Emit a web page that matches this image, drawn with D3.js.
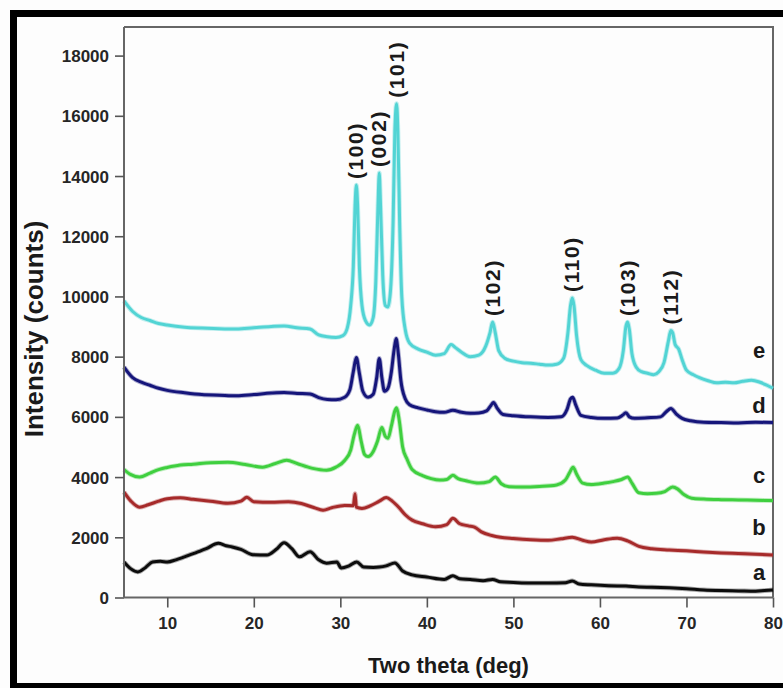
<!DOCTYPE html>
<html>
<head>
<meta charset="utf-8">
<script src="https://cdn.jsdelivr.net/npm/d3@7"></script>
<style>
  html, body { margin: 0; padding: 0; background: #fff; }
  svg { display: block; }
  text { font-family: Arial, "Liberation Sans", sans-serif; }
</style>
</head>
<body>
<svg id="chart" width="783" height="688"></svg>
<script>
// XRD patterns of five samples (a–e), 2θ in degrees vs intensity in counts.
const seriesNames = ["a", "b", "c", "d", "e"];

const thetaA = [5, 5.8, 6.6, 7.5, 8.3, 9.2, 10, 11, 12, 13.4, 14.5, 15.9, 16.8, 17.5, 18.5, 19.9, 21.5, 22.6, 23.5, 24.4, 25.3, 26.5, 27.5, 28.4, 29.6, 30.1, 31, 31.9, 32.7, 33.8, 34.5, 35.3, 36.3, 37.2, 38.3, 40, 42, 43, 43.8, 45, 46.5, 47.6, 48.5, 50, 52, 54, 56, 56.8, 57.6, 59, 61, 63, 64.5, 66, 68, 70, 72, 74, 76, 78, 79, 80];
const countsA = [1180, 950, 850, 1000, 1180, 1200, 1180, 1250, 1350, 1500, 1620, 1800, 1720, 1680, 1600, 1420, 1410, 1600, 1820, 1620, 1350, 1520, 1250, 1140, 1180, 980, 1050, 1180, 1010, 1000, 1010, 1050, 1150, 880, 750, 680, 600, 720, 620, 600, 560, 600, 520, 500, 480, 480, 490, 550, 450, 420, 390, 380, 350, 340, 320, 290, 250, 230, 220, 210, 230, 250];

const thetaB = [5, 5.8, 6.8, 7.8, 9, 10, 11.5, 13, 15, 17, 18.5, 19.2, 20, 22, 24, 25.5, 27, 28, 29, 30.5, 31.5, 31.7, 31.85, 32.5, 33.5, 34.5, 35.3, 36, 36.8, 37.5, 38.3, 39.5, 41, 42.3, 43, 43.8, 44.8, 45.5, 46.3, 47.5, 48.5, 50, 52, 54, 55.5, 56.8, 58, 59, 60.5, 62, 63.2, 64.5, 66, 68, 70, 72, 74, 76, 78, 80];
const countsB = [3500, 3200, 3000, 3080, 3200, 3280, 3310, 3260, 3200, 3130, 3200, 3330, 3180, 3160, 3180, 3120, 2980, 2900, 2980, 3060, 3050, 3450, 3000, 2960, 3050, 3200, 3320, 3200, 2980, 2750, 2570, 2450, 2350, 2420, 2630, 2450, 2380, 2340, 2180, 2060, 2000, 1960, 1920, 1900, 1950, 2000, 1900, 1840, 1920, 1970, 1880, 1700, 1620, 1580, 1550, 1510, 1480, 1460, 1440, 1410];

const thetaC = [5, 5.8, 6.8, 8, 9, 10, 11.5, 13, 15, 17, 19, 21, 22.5, 23.8, 25, 26.8, 28.4, 29.5, 30.5, 31.2, 31.6, 32, 32.4, 32.8, 33.2, 33.8, 34.3, 34.8, 35.2, 35.5, 35.9, 36.3, 36.5, 36.8, 37.2, 37.7, 38.3, 39.5, 40.5, 41.5, 42.3, 43, 43.6, 44.5, 46, 47.2, 47.9, 48.6, 49.5, 51, 53, 55, 56, 56.5, 56.9, 57.3, 58, 59, 60.5, 61.5, 62.5, 63.2, 63.7, 64.5, 65.5, 66.5, 67.5, 68.4, 69, 69.7, 70.6, 72, 74, 76, 78, 80];
const countsC = [4250, 4080, 4000, 4130, 4250, 4320, 4400, 4430, 4480, 4490, 4420, 4330, 4450, 4560, 4450, 4290, 4230, 4330, 4550, 4900, 5400, 5720, 5200, 4750, 4680, 4850, 5200, 5650, 5350, 5290, 5700, 6200, 6300, 5900, 5000, 4600, 4250, 4050, 3950, 3900, 3920, 4060, 3950, 3880, 3800, 3850, 4000, 3780, 3680, 3670, 3690, 3740, 3900, 4150, 4330, 4100, 3800, 3750, 3800, 3850, 3920, 4000, 3800, 3480, 3450, 3460, 3520, 3670, 3600, 3420, 3300, 3270, 3250, 3240, 3230, 3220];

const thetaD = [5, 6, 7, 8, 9, 10, 12, 14, 16, 18, 20, 22, 23.5, 25, 26.5, 27.5, 28.5, 29.5, 30.5, 31.1, 31.5, 31.85, 32.2, 32.6, 33.2, 33.8, 34.2, 34.5, 34.8, 35.1, 35.5, 35.9, 36.2, 36.45, 36.7, 37, 37.5, 38, 39, 40, 41, 42, 43, 44, 45, 46, 46.9, 47.4, 47.7, 48.1, 48.8, 50, 52, 54, 55.5, 56.2, 56.6, 56.85, 57.2, 57.8, 59, 60.5, 62, 62.6, 63, 63.4, 64, 65.5, 67, 67.7, 68.2, 68.8, 69.5, 70.5, 72, 74, 76, 78, 80];
const countsD = [7650, 7300, 7150, 7050, 6950, 6880, 6800, 6740, 6720, 6700, 6740, 6790, 6810, 6780, 6760, 6640, 6580, 6570, 6650, 6900, 7500, 7970, 7450, 6850, 6650, 6750, 7300, 7940, 7300, 6850, 6950, 7500, 8200, 8600, 8100, 7200, 6600, 6400, 6300, 6230, 6170, 6150, 6220, 6150, 6120, 6130, 6200, 6380, 6480, 6300, 6080, 6040, 6000, 5980, 6000, 6250, 6600, 6650, 6400, 6050, 5980, 5950, 5960, 6050, 6140, 6000, 5950, 5970, 6000, 6180, 6280, 6100, 5950, 5870, 5820, 5810, 5800, 5820, 5810];

const thetaE = [5, 6, 7, 8, 9, 10, 12, 14, 16, 18, 20, 22, 23.5, 25, 26.5, 27.5, 28.5, 29.5, 30.3, 30.8, 31.2, 31.5, 31.7, 31.85, 32, 32.2, 32.5, 32.9, 33.4, 33.8, 34.1, 34.35, 34.5, 34.65, 34.9, 35.2, 35.5, 35.8, 36.1, 36.3, 36.5, 36.65, 36.85, 37.1, 37.5, 38, 39, 40, 41, 42, 42.8, 43.3, 44, 45, 46, 46.8, 47.3, 47.6, 47.9, 48.3, 49, 50, 51, 52, 53, 54, 55, 55.8, 56.3, 56.6, 56.8, 57, 57.3, 57.8, 58.5, 59.5, 60.5, 61.5, 62.2, 62.7, 63, 63.2, 63.4, 63.7, 64.2, 64.8, 65.5, 66.2, 66.8, 67.4, 67.9, 68.2, 68.4, 68.7, 69.1, 69.5, 70, 70.8, 71.5, 72.5, 73.5, 74.5, 75.5, 76.5, 77.5, 78.5, 79.3, 80];
const countsE = [9850, 9500, 9300, 9200, 9100, 9050, 8980, 8950, 8930, 8920, 8960, 9000, 9020, 8960, 8920, 8720, 8660, 8640, 8700, 8950, 9700, 11000, 13000, 13700, 13000, 11000, 9700, 9200, 9050, 9300, 10500, 13000, 14100, 13000, 10700, 9700, 9650, 10200, 12500, 15500, 16400, 15500, 12500, 10000, 8900, 8450, 8250, 8150, 8050, 8100, 8400, 8300, 8150, 8000, 8050, 8350, 8800, 9150, 8800, 8200, 7950, 7850, 7800, 7780, 7750, 7720, 7750, 7950, 8800, 9700, 9950, 9700, 8700, 7900, 7700, 7550, 7450, 7450, 7600, 8200, 9000, 9150, 8900, 8100, 7650, 7500, 7450, 7400, 7500, 7800, 8500, 8870, 8800, 8400, 8250, 7900, 7550, 7400, 7300, 7200, 7130, 7150, 7130, 7180, 7220, 7150, 7050, 6950];

// Miller indices of the reflections, with the 2θ of each peak in pattern e
const hklLabels = ["(100)", "(002)", "(101)", "(102)", "(110)", "(103)", "(112)"];
const hklTheta = [31.85, 34.5, 36.5, 47.6, 56.8, 63.2, 68.2];

// Axis ticks
const xTicks = [10, 20, 30, 40, 50, 60, 70, 80];
const yTicks = [0, 2000, 4000, 6000, 8000, 10000, 12000, 14000, 16000, 18000];

const xTitle = "Two theta (deg)";
const yTitle = "Intensity (counts)";

// ---- layout & style ----
const svg = d3.select("#chart");
const plot = { left: 124, right: 773, top: 27, bottom: 597.5 };
const colors = { a: "#0c0c0c", b: "#a62a2a", c: "#3fcf3f", d: "#15157a", e: "#52d4d4" };
const letterPos = { a: 846, b: 2340, c: 4065, d: 6389, e: 8214 }; // in counts, at right edge

const x = d3.scaleLinear().domain([5, 80]).range([plot.left, plot.right]);
const y = d3.scaleLinear().domain([0, 18950]).range([plot.bottom, plot.top]);

// page background and black frame bands
svg.append("rect").attr("width", 783).attr("height", 688).attr("fill", "#fdfdfd");
svg.append("rect").attr("x", 10).attr("y", 10).attr("width", 7).attr("height", 678).attr("fill", "#000");
svg.append("rect").attr("x", 10).attr("y", 10).attr("width", 773).attr("height", 7).attr("fill", "#000");
svg.append("rect").attr("x", 10).attr("y", 683).attr("width", 773).attr("height", 5).attr("fill", "#000");

// plot box (top and right edges)
svg.append("path")
  .attr("d", `M${plot.left},${plot.top}H${plot.right}V${plot.bottom}`)
  .attr("fill", "none").attr("stroke", "#666").attr("stroke-width", 2);

// data
const data = {
  a: d3.zip(thetaA, countsA),
  b: d3.zip(thetaB, countsB),
  c: d3.zip(thetaC, countsC),
  d: d3.zip(thetaD, countsD),
  e: d3.zip(thetaE, countsE)
};

const line = d3.line().x(d => x(d[0])).y(d => y(d[1])).curve(d3.curveMonotoneX);

const curves = svg.append("g");
// soft halo under each trace
seriesNames.forEach(name => {
  curves.append("path")
    .datum(data[name])
    .attr("d", line)
    .attr("fill", "none")
    .attr("stroke", colors[name])
    .attr("stroke-opacity", 0.35)
    .attr("stroke-width", 4.8)
    .attr("stroke-linejoin", "round");
  curves.append("path")
    .datum(data[name])
    .attr("d", line)
    .attr("fill", "none")
    .attr("stroke", colors[name])
    .attr("stroke-width", 3)
    .attr("stroke-linejoin", "round");
});

// axes
const xAxis = d3.axisBottom(x).tickValues(xTicks).tickSize(10).tickSizeOuter(0).tickFormat(d3.format("d"));
const yAxis = d3.axisLeft(y).tickValues(yTicks).tickSize(9).tickSizeOuter(0).tickFormat(d3.format("d"));

const gx = svg.append("g").attr("transform", `translate(0,${plot.bottom})`).call(xAxis);
const gy = svg.append("g").attr("transform", `translate(${plot.left},0)`).call(yAxis);

[gx, gy].forEach(g => {
  g.select(".domain").attr("stroke", "#666").attr("stroke-width", 2);
  g.selectAll(".tick line").attr("stroke", "#555").attr("stroke-width", 1.6);
  g.selectAll(".tick text")
    .attr("fill", "#262626")
    .style("font-size", "17px")
    .style("font-weight", "bold");
});
gx.select(".domain").attr("d", `M${plot.left},0H${plot.right}`);
gy.select(".domain").attr("d", `M0,${plot.bottom}V${plot.top}`);
gx.selectAll(".tick text").attr("y", 0).attr("dy", null).attr("transform", "translate(0,31.5)");
gy.selectAll(".tick text").attr("x", -15).attr("dy", "0.36em");

// axis titles
svg.append("text")
  .attr("x", (plot.left + plot.right) / 2)
  .attr("y", 673)
  .attr("text-anchor", "middle")
  .attr("fill", "#1a1a1a")
  .style("font-size", "22px").style("font-weight", "bold")
  .text(xTitle);

svg.append("text")
  .attr("transform", "translate(43,329) rotate(-90)")
  .attr("text-anchor", "middle")
  .attr("fill", "#1a1a1a")
  .style("font-size", "26px").style("font-weight", "bold")
  .text(yTitle);

// Miller index labels, stacked above the peaks of pattern e
const peakOf = t => {
  let best = data.e[0];
  data.e.forEach(p => { if (Math.abs(p[0] - t) < Math.abs(best[0] - t)) best = p; });
  return best[1];
};
svg.append("g").selectAll("text")
  .data(d3.zip(hklLabels, hklTheta))
  .join("text")
  .attr("transform", d => `translate(${x(d[1]) + 7},${y(peakOf(d[1])) - 6}) rotate(-90)`)
  .attr("text-anchor", "start")
  .attr("fill", "#1a1a1a")
  .style("font-size", "21px").style("font-weight", "bold")
  .style("letter-spacing", "1.6px")
  .text(d => d[0]);

// sample letters at the right edge
svg.append("g").selectAll("text")
  .data(seriesNames)
  .join("text")
  .attr("x", 759)
  .attr("y", d => y(letterPos[d]))
  .attr("dy", "0.36em")
  .attr("text-anchor", "middle")
  .attr("fill", "#1a1a1a")
  .style("font-size", "22px").style("font-weight", "bold")
  .text(d => d);
</script>
</body>
</html>
